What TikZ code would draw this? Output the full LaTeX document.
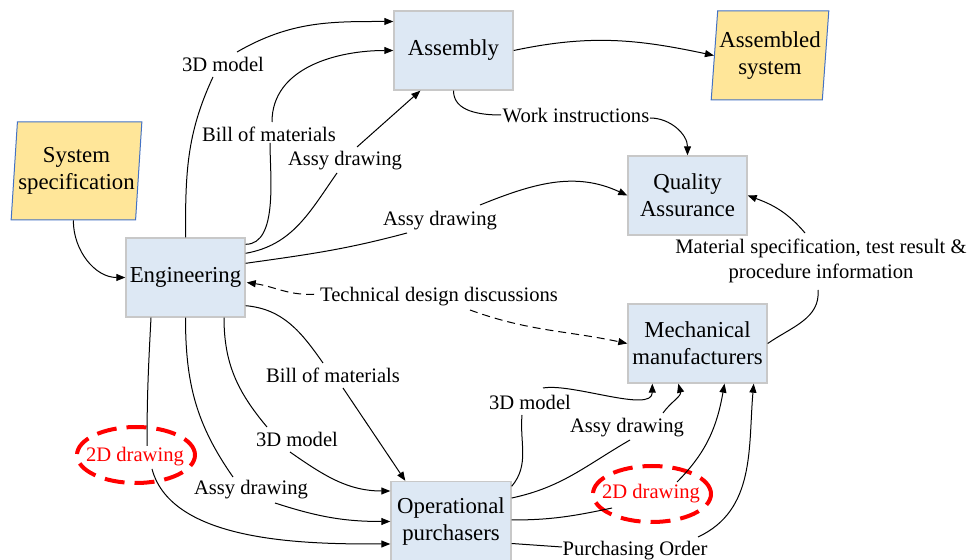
\documentclass[tikz,border=0pt]{standalone}
\usepackage{fontspec}
\setmainfont{Liberation Serif}
\usetikzlibrary{shapes.geometric,arrows.meta,calc}

\definecolor{boxblue}{RGB}{221,232,244}
\definecolor{boxline}{RGB}{200,200,200}
\definecolor{docgold}{RGB}{255,230,153}
\definecolor{docline}{RGB}{68,114,196}

\tikzstyle{activity} = [rectangle, draw=boxline, fill=boxblue, line width=0.7pt, text centered, align=center, minimum width=59.5pt, minimum height=39.5pt, inner sep=1pt, font=\fontsize{11.4}{13.5}\selectfont]
\tikzstyle{artefact} = [trapezium, trapezium left angle=82.5, trapezium right angle=97.5, trapezium stretches=true, draw=docline, fill=docgold, line width=0.5pt, text centered, align=center, inner sep=0pt, font=\fontsize{11.4}{13.5}\selectfont]
\tikzstyle{note} = [inner sep=1pt, align=center, font=\fontsize{10.3}{12.5}\selectfont]
\tikzstyle{rednote} = [note, text=red]
\tikzstyle{redring} = [draw=red, line width=2pt, dash pattern=on 10pt off 5pt]
\tikzstyle{flow} = [draw, line width=0.5pt]
\tikzstyle{talk} = [flow, dash pattern=on 4pt off 2.5pt]

\begin{document}
\begin{tikzpicture}[x=0.5pt, y=-0.5pt, >={Triangle[length=4.5pt,width=3.5pt]}]
    \useasboundingbox (0,0) rectangle (969,560);

    % parties and documents
    \node[artefact, minimum width=65.5pt, minimum height=49pt] (sysspec) at (76.5,171) {System\\specification};
    \node[artefact, minimum width=59pt, minimum height=44.5pt] (asmsys) at (770,55.5) {Assembled\\system};
    \node[activity] (assembly) at (453.5,50.5) {Assembly};
    \node[activity] (engineering) at (185.5,277.5) {Engineering};
    \node[activity] (quality) at (687.5,195.5) {Quality\\Assurance};
    \node[activity, minimum width=69.5pt] (mechanical) at (697.5,343.5) {Mechanical\\manufacturers};
    \node[activity, minimum width=60pt, minimum height=40pt] (purchasers) at (451,521.5) {Operational\\purchasers};

    % what flows between them
    \node[note] (modelA) at (223,64) {3D model};
    \node[note] (bomA) at (269,134) {Bill of materials};
    \node[note] (assyA) at (345,161) {Assy drawing};
    \node[note] (assyQ) at (440,221) {Assy drawing};
    \node[note] (work) at (576,116) {Work instructions};
    \node[note] (design) at (439,297) {Technical design discussions};
    \node[note] (matinfo) at (821,261) {Material specification, test result \&\\procedure information};
    \node[note] (bomP) at (333,375) {Bill of materials};
    \node[note] (modelP) at (297,439) {3D model};
    \node[note] (assyP) at (251,490) {Assy drawing};
    \node[rednote] (drawP) at (135,457) {2D drawing};
    \node[note] (modelM) at (530,402) {3D model};
    \node[note] (assyM) at (627,428) {Assy drawing};
    \node[rednote] (drawM) at (651,494) {2D drawing};
    \node[note] (order) at (635,551) {Purchasing Order};

    \draw[redring] ($(drawP)+(1,-2)$) ellipse [x radius=29.5pt, y radius=14pt];
    \draw[redring] ($(drawM)+(1,0)$) ellipse [x radius=29.5pt, y radius=14pt];

    \path [flow, ->] (sysspec.bottom side) to[out=-90,in=180] (engineering.west);
    \path [flow, ->] (assembly.east) to[out=12,in=168] (asmsys.west);

    % engineering to assembly and QA
    \path [flow, ->] (engineering.north) to[out=90,in=-115] ($(modelA)+(-10,13)$)
                     ($(modelA)+(14,-12)$) to[out=30,in=180] ($(assembly.west)+(0,-29)$);
    \path [flow, ->] ($(engineering.north east)+(0,7)$) to[out=0,in=-90,looseness=0.8] ($(bomA)+(1,9)$)
                     ($(bomA)+(3,-12)$) to[out=90,in=180] (assembly.west);
    \path [flow, ->] ($(engineering.north east)+(0,16)$) to[out=10,in=-125] ($(assyA)+(-8,12)$)
                     ($(assyA)+(12,-14)$) -- ($(assembly.south west)+(27,0)$);
    \path [flow, ->] ($(engineering.north east)+(0,26)$) to[out=8,in=195] ($(assyQ)+(-33,12)$)
                     ($(assyQ)+(40,-16)$) to[out=22,in=155] (quality.west);
    \path [flow, ->] (assembly.south) to[out=-90,in=180] ($(work)+(-75,-1)$)
                     ($(work)+(74,2)$) to[out=0,in=90] (quality.north);
    \path [talk, <-] ($(engineering.east)+(1,5)$) to[out=-8,in=185] ($(design)+(-121,-3)$);
    \path [talk, ->] ($(design)+(31,13)$) to[out=-20,in=168] (mechanical.west);
    \path [flow, ->] (mechanical.east) to[out=35,in=-85] ($(matinfo)+(-3,29)$)
                     ($(matinfo)+(-16,-28)$) to[out=130,in=-20] (quality.east);

    % engineering to purchasers
    \path [flow, ->] ($(engineering.south east)+(0,-12)$) to[out=-5,in=125] ($(bomP)+(-10,-12)$)
                     ($(bomP)+(10,13)$) -- ($(purchasers.north west)+(15,0)$);
    \path [flow, ->] ($(engineering.south)+(38.5,0)$) to[out=-90,in=130] ($(modelP)+(-30,-12)$)
                     ($(modelP)+(-7,13)$) to[out=-35,in=180] ($(purchasers.west)+(0,-30.5)$);
    \path [flow, ->] (engineering.south) to[out=-90,in=125] ($(assyP)+(-18,-13)$)
                     ($(assyP)+(24,13)$) to[out=-18,in=180] (purchasers.west);
    \path [flow, ->] ($(engineering.south)+(-34.5,0)$) to[out=-93,in=90] ($(drawP)+(12,-11)$)
                     ($(drawP)+(17,12)$) to[out=-75,in=180,looseness=0.8] ($(purchasers.west)+(0,22.5)$);

    % purchasers to manufacturers
    \path [flow, ->] ($(purchasers.north east)+(0,5.5)$) to[out=50,in=-95] ($(modelM)+(-8,13)$)
                     ($(modelM)+(13,-14)$) to[out=10,in=-90,looseness=0.7] ($(mechanical.south west)+(25,0)$);
    \path [flow, ->] ($(purchasers.east)+(0,-23.5)$) to[out=12,in=-150] ($(assyM)+(3,12)$)
                     ($(assyM)+(36,-15)$) to[out=55,in=-75] ($(mechanical.south west)+(51,0)$);
    \path [flow, ->] ($(purchasers.east)+(0,-1.5)$) to[out=0,in=192] ($(drawM)+(-39,14)$)
                     ($(drawM)+(26,-12)$) to[out=45,in=-100] ($(mechanical.south)+(27,0)$);
    \path [flow, ->] ($(purchasers.east)+(0,22)$) -- ($(order)+(-73,-4)$)
                     ($(order)+(63,-14)$) to[out=25,in=-95] ($(mechanical.south east)+(-14,0)$);
\end{tikzpicture}
\end{document}
